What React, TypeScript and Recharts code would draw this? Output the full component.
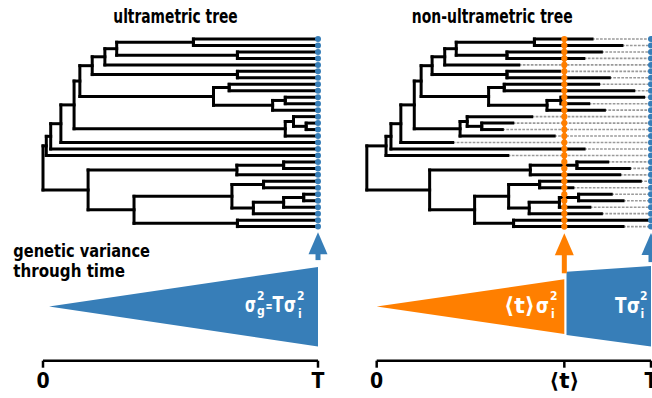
import React from 'react';
import { ComposedChart, XAxis, YAxis, Area, Scatter, ReferenceLine } from 'recharts';

const BLUE = '#377EB8';
const ORANGE = '#FF7F00';
const FONT = "'Liberation Sans Narrow','DejaVu Sans Condensed','Open Sans',sans-serif";

// ---------- data ----------
const TIP_ROWS = [0,1,2,3,4,5,6,7,8,9,10,11,12,13,14,15,16,17,18,19,20,21,22,23,24,25,26,27,28,29];

// topology shared by both trees (children listed before parents)
const NODE_NAMES = ['A','P23','B','C','P56','D','P78','P910','Q','E','F','P1314','R','G','H','I','J','K','P1920','L','P2223','P2425','S','U','M','P2829','N','O','root'];
const NODE_CHILD_A: (string|number)[] = [0,2,'A','B',5,'C',7,9,'P910','P78','D',13,12,'R','F','H','I','J',19,'P1920',22,24,'P2425','S','P2223',28,'M','L','K'];
const NODE_CHILD_B: (string|number)[] = [1,3,'P23',4,6,'P56',8,10,11,'Q','E',14,'P1314',15,'G',16,17,18,20,21,23,25,26,27,'U',29,'P2829','N','O'];

// node times (fraction of T)
const ULTRA_NODE_T = [0.547,0.707,0.268,0.225,0.707,0.179,0.677,0.881,0.835,0.620,0.134,0.957,0.911,0.881,0.113,0.065,0.028,0.012,0.875,0.705,0.802,0.948,0.875,0.765,0.687,0.707,0.331,0.164,0.0];
const ULTRA_TIP_T = [1,1,1,1,1,1,1,1,1,1,1,1,1,1,1,1,1,1,1,1,1,1,1,1,1,1,1,1,1,1];

const NONULTRA_NODE_T = [0.575,0.475,0.290,0.248,0.475,0.202,0.465,0.672,0.621,0.408,0.162,0.383,0.330,0.304,0.137,0.088,0.052,0.034,0.730,0.560,0.594,0.736,0.666,0.556,0.481,0.499,0.357,0.193,-0.036];
const NONULTRA_TIP_T = [0.785,0.894,0.819,0.755,0.518,0.666,0.848,0.809,0.937,0.973,0.773,0.830,0.565,0.496,0.458,0.647,0.277,0.756,0.478,0.842,0.921,0.886,0.961,0.715,0.855,0.898,0.777,0.819,0.989,0.898];

const TBAR = 0.684;

const LEFT_TICKS = [0, 1];
const LEFT_TICK_LABELS = ['0', 'T'];
const RIGHT_TICKS = [0, TBAR, 1];
const RIGHT_TICK_LABELS = ['0', '\u27E8t\u27E9', 'T'];

// genetic variance bands [low, high]
const LEFT_BAND = [ { t: 0.022, band: [0, 0] }, { t: 1, band: [-1.0, 0.99] } ];
const RIGHT_ORANGE_BAND = [ { t: 0.0, band: [0, 0] }, { t: TBAR, band: [-0.69, 0.68] } ];
const RIGHT_BLUE_BAND = [ { t: 0.692, band: [-0.71, 0.87] }, { t: 1, band: [-1.0, 1.01] } ];

// arrows: time, shaft bottom, tip
const LEFT_ARROWS = [ { t: 1, v0: 1.16, v1: 1.855, color: BLUE } ];
const RIGHT_ARROWS = [ { t: TBAR, v0: 0.83, v1: 1.83, color: ORANGE }, { t: 1, v0: 1.11, v1: 1.84, color: BLUE } ];

// ---------- layout constants ----------
const PLOT_TOP = 0;
const PLOT_BOTTOM = 360.7;
const PLOT_H = PLOT_BOTTOM - PLOT_TOP;
const ROW_PX0 = 39;
const ROW_STEP = 6.469;
const ROW_MIN = (PLOT_TOP - ROW_PX0) / ROW_STEP;
const ROW_DOMAIN = [ROW_MIN, ROW_MIN + PLOT_H / ROW_STEP];
const V_CENTER = 306.5;
const V_UNIT = 40;
const V_DOMAIN = [-(PLOT_BOTTOM - V_CENTER) / V_UNIT, (V_CENTER - PLOT_TOP) / V_UNIT];

type Seg = [{ x: number; y: number }, { x: number; y: number }];

function buildTree(nodeT: number[], tipT: number[]): Seg[] {
  const y: Record<string, number> = {};
  const t: Record<string, number> = {};
  TIP_ROWS.forEach((r, i) => { y['tip' + i] = r; t['tip' + i] = tipT[i]; });
  const key = (c: string | number) => (typeof c === 'number' ? 'tip' + c : c);
  const segs: Seg[] = [];
  NODE_NAMES.forEach((name, k) => {
    const a = key(NODE_CHILD_A[k]);
    const b = key(NODE_CHILD_B[k]);
    const tn = nodeT[k];
    y[name] = (y[a] + y[b]) / 2;
    t[name] = tn;
    segs.push([{ x: tn, y: y[a] }, { x: tn, y: y[b] }]);
    segs.push([{ x: tn, y: y[a] }, { x: t[a], y: y[a] }]);
    segs.push([{ x: tn, y: y[b] }, { x: t[b], y: y[b] }]);
  });
  return segs;
}

const dot = (color: string, r: number) => (p: any) => <circle cx={p.cx} cy={p.cy} r={r} fill={color} />;
const head = (color: string) => (p: any) => (
  <polygon points={`${p.cx},${p.cy} ${p.cx - 9.5},${p.cy + 22} ${p.cx + 9.5},${p.cy + 22}`} fill={color} />
);

const TimeTick = (labels: string[]) => (p: any) => {
  const label = labels[p.index];
  const wide = label.length > 1;
  return (
    <text x={p.x} y={p.y} dy="0.71em" textAnchor="middle" fontSize={21} fontWeight={700} fill="#000"
      fontFamily={FONT} {...(wide ? { textLength: 30, lengthAdjust: 'spacingAndGlyphs' } : {})}>
      {label}
    </text>
  );
};

const axisProps = (ticks: number[], labels: string[]) => ({
  xAxisId: 0,
  type: 'number' as const,
  dataKey: 't',
  domain: [0, 1],
  ticks,
  interval: 0 as const,
  axisLine: { stroke: '#000', strokeWidth: 2.5 },
  tickLine: { stroke: '#000', strokeWidth: 2.5 },
  tickSize: 7,
  tickMargin: 5,
  height: 30,
  tick: TimeTick(labels),
});

function Panel(props: {
  left: number; width: number; margin: any; ticks: number[]; labels: string[];
  nodeT: number[]; tipT: number[]; ultra: boolean; bands: { data: any[]; color: string }[]; arrows: any[];
}) {
  const segs = buildTree(props.nodeT, props.tipT);
  const tipsAtT = TIP_ROWS.map((r) => ({ t: 1, row: r }));
  const tipsAtBar = TIP_ROWS.map((r) => ({ t: TBAR, row: r }));
  return (
    <div style={{ position: 'absolute', left: props.left, top: 0 }}>
      <ComposedChart width={props.width} height={398} margin={props.margin}>
        <XAxis {...axisProps(props.ticks, props.labels)} />
        <YAxis yAxisId="row" dataKey="row" type="number" domain={ROW_DOMAIN} reversed hide />
        <YAxis yAxisId="v" dataKey="v" type="number" domain={V_DOMAIN} hide />
        {props.bands.map((b, i) => (
          <Area key={'band' + i} yAxisId="v" data={b.data} dataKey="band" type="linear" fill={b.color}
            fillOpacity={1} stroke="none" isAnimationActive={false} dot={false} activeDot={false} />
        ))}
        {!props.ultra && props.tipT.map((tt, i) => (
          <ReferenceLine key={'dash' + i} yAxisId="row" ifOverflow="visible"
            segment={[{ x: tt, y: TIP_ROWS[i] }, { x: 1, y: TIP_ROWS[i] }]}
            stroke="#9a9a9a" strokeWidth={1.6} strokeDasharray="2.7 1.3" />
        ))}
        {segs.map((s, i) => (
          <ReferenceLine key={'seg' + i} yAxisId="row" ifOverflow="visible" segment={s}
            stroke="#000" strokeWidth={3} strokeLinecap="square" />
        ))}
        {!props.ultra && (
          <ReferenceLine yAxisId="row" ifOverflow="visible"
            segment={[{ x: TBAR, y: -0.3 }, { x: TBAR, y: 29.3 }]} stroke={ORANGE} strokeWidth={3} />
        )}
        {props.arrows.map((a, i) => (
          <ReferenceLine key={'shaft' + i} yAxisId="v" ifOverflow="visible"
            segment={[{ x: a.t, y: a.v0 }, { x: a.t, y: a.v1 - 0.3 }]} stroke={a.color} strokeWidth={5} />
        ))}
        {props.arrows.map((a, i) => (
          <Scatter key={'head' + i} yAxisId="v" data={[{ t: a.t, v: a.v1 }]} shape={head(a.color)} isAnimationActive={false} />
        ))}
        <Scatter yAxisId="row" data={tipsAtT} shape={dot(BLUE, 3)} isAnimationActive={false} />
        {!props.ultra && (
          <Scatter yAxisId="row" data={tipsAtBar} shape={dot(ORANGE, 3.1)} isAnimationActive={false} />
        )}
      </ComposedChart>
    </div>
  );
}

const T = (p: any) => (
  <text fontFamily={FONT} fontWeight={700} {...p}>{p.children}</text>
);

export default function App() {
  return (
    <div style={{ position: 'absolute', left: 0, top: 0, width: 652, height: 398, overflow: 'hidden', background: '#fff' }}>
      <Panel left={0} width={330} margin={{ top: PLOT_TOP, right: 12, bottom: 7.3, left: 43 }}
        ticks={LEFT_TICKS} labels={LEFT_TICK_LABELS} nodeT={ULTRA_NODE_T} tipT={ULTRA_TIP_T} ultra
        bands={[{ data: LEFT_BAND, color: BLUE }]} arrows={LEFT_ARROWS} />
      <Panel left={326} width={340} margin={{ top: PLOT_TOP, right: 15, bottom: 7.3, left: 50.7 }}
        ticks={RIGHT_TICKS} labels={RIGHT_TICK_LABELS} nodeT={NONULTRA_NODE_T} tipT={NONULTRA_TIP_T} ultra={false}
        bands={[{ data: RIGHT_ORANGE_BAND, color: ORANGE }, { data: RIGHT_BLUE_BAND, color: BLUE }]} arrows={RIGHT_ARROWS} />
      <svg width={652} height={398} style={{ position: 'absolute', left: 0, top: 0, pointerEvents: 'none' }}>
        <T x={113.3} y={22.7} fontSize={19} textLength={124.4} lengthAdjust="spacingAndGlyphs" fill="#000">ultrametric tree</T>
        <T x={411.7} y={22.7} fontSize={19} textLength={161} lengthAdjust="spacingAndGlyphs" fill="#000">non-ultrametric tree</T>
        <T x={13.3} y={256.7} fontSize={17} textLength={136.7} lengthAdjust="spacingAndGlyphs" fill="#000">genetic variance</T>
        <T x={13.3} y={276.7} fontSize={17} textLength={111.7} lengthAdjust="spacingAndGlyphs" fill="#000">through time</T>
        {/* left formula */}
        <T x={245} y={312} fontSize={22} textLength={11} lengthAdjust="spacingAndGlyphs" fill="#fff">σ</T>
        <T x={257} y={299.5} fontSize={12} fill="#fff">2</T>
        <T x={257} y={315} fontSize={12} fill="#fff">g</T>
        <T x={265.5} y={310.5} fontSize={15} textLength={7} lengthAdjust="spacingAndGlyphs" fill="#fff">=</T>
        <T x={272.5} y={312} fontSize={22} textLength={11} lengthAdjust="spacingAndGlyphs" fill="#fff">T</T>
        <T x={284} y={312} fontSize={22} textLength={12} lengthAdjust="spacingAndGlyphs" fill="#fff">σ</T>
        <T x={297} y={299.5} fontSize={12} fill="#fff">2</T>
        <T x={298} y={318} fontSize={12} fill="#fff">i</T>
        {/* right orange formula */}
        <T x={504} y={313} fontSize={22} textLength={31} lengthAdjust="spacingAndGlyphs" fill="#fff">{'\u27E8t\u27E9'}</T>
        <T x={536} y={313} fontSize={22} textLength={13} lengthAdjust="spacingAndGlyphs" fill="#fff">σ</T>
        <T x={550} y={299.5} fontSize={12} fill="#fff">2</T>
        <T x={551} y={318} fontSize={12} fill="#fff">i</T>
        {/* right blue formula */}
        <T x={615} y={313} fontSize={22} textLength={11.5} lengthAdjust="spacingAndGlyphs" fill="#fff">T</T>
        <T x={627} y={313} fontSize={22} textLength={13} lengthAdjust="spacingAndGlyphs" fill="#fff">σ</T>
        <T x={640} y={299.5} fontSize={12} fill="#fff">2</T>
        <T x={640.5} y={318} fontSize={12} fill="#fff">i</T>
      </svg>
    </div>
  );
}
